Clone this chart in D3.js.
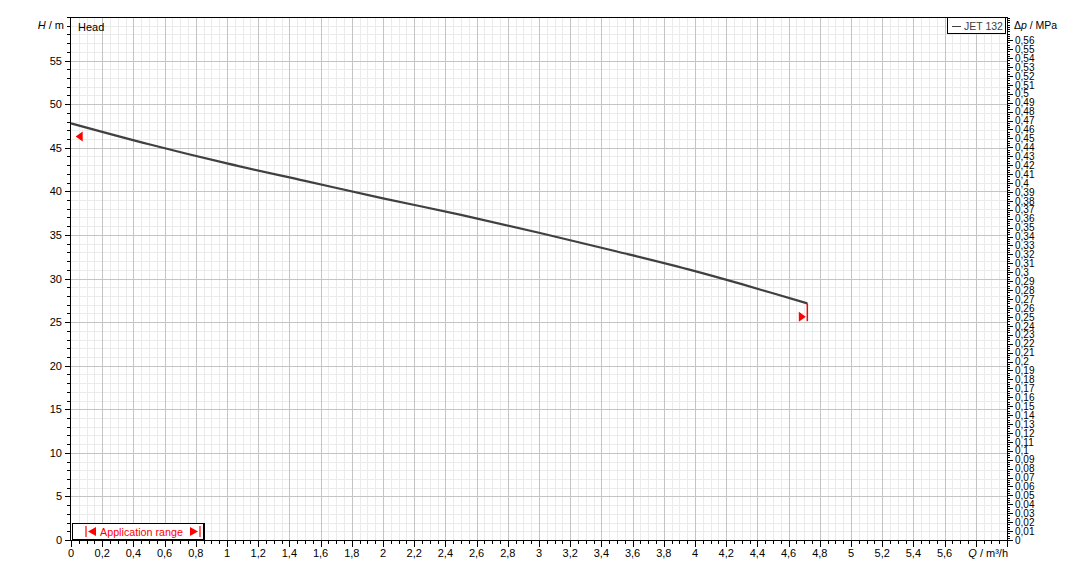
<!DOCTYPE html>
<html><head><meta charset="utf-8">
<script src="https://cdn.jsdelivr.net/npm/d3@7"></script>
<style>
body{margin:0;background:#fff;}
text{font-family:"Liberation Sans",Arial,sans-serif;fill:#000;}
</style></head>
<body><svg id="c" width="1081" height="577"></svg>
<script>
// Data
const flowQ = [0, 0.5, 1, 1.5, 2, 2.5, 3, 3.5, 4, 4.3, 4.5, 4.72];
const headH = [47.8, 45.4, 43.2, 41.2, 39.2, 37.3, 35.25, 33.1, 30.85, 29.35, 28.3, 27.15];
const seriesName = "JET 132";
const appRangeMin = {q: 0.03, h: 46.3};
const appRangeMax = {q: 4.72, hTop: 27.15, hBot: 25.1, markH: 25.6};
const xTickLabels = d3.range(0, 29).map(i => i * 0.2);
const yTickLabels = d3.range(0, 60, 5);
const pTickLabels = d3.range(0, 57).map(i => i / 100);

const svg = d3.select("#c");
const L = 71, R = 1007, T = 17, B = 540;
const x = d3.scaleLinear([0, 6], [L, R]);
const y = d3.scaleLinear([0, 60], [B, T]);
const yp = d3.scaleLinear([0, 0.586], [B, T]);
const fmt = v => String(+v.toFixed(2)).replace(".", ",");

// minor grid
const g = svg.append("g");
d3.range(0, 121).forEach(i => {
  if (i % 4 === 0) return;
  g.append("line").attr("x1", Math.round(x(i * 0.05)) + 0.5).attr("x2", Math.round(x(i * 0.05)) + 0.5).attr("y1", T).attr("y2", B)
    .attr("stroke", "#ebebeb");
});
d3.range(0, 61).forEach(i => {
  if (i % 5 === 0) return;
  g.append("line").attr("x1", L).attr("x2", R).attr("y1", Math.round(y(i)) + 0.5).attr("y2", Math.round(y(i)) + 0.5)
    .attr("stroke", "#ebebeb");
});
// major grid
d3.range(1, 30).forEach(i => {
  g.append("line").attr("x1", Math.round(x(i * 0.2)) + 0.5).attr("x2", Math.round(x(i * 0.2)) + 0.5).attr("y1", T).attr("y2", B)
    .attr("stroke", "#c4c4c4");
});
d3.range(1, 12).forEach(i => {
  g.append("line").attr("x1", L).attr("x2", R).attr("y1", Math.round(y(i * 5)) + 0.5).attr("y2", Math.round(y(i * 5)) + 0.5)
    .attr("stroke", "#c4c4c4");
});

// frame top
svg.append("line").attr("x1", L).attr("x2", R).attr("y1", T + 0.5).attr("y2", T + 0.5).attr("stroke", "#000");

// Left axis
const ax = svg.append("g").attr("transform", `translate(${L},0)`);
ax.append("g").call(d3.axisLeft(y).tickValues(d3.range(0, 61)).tickSize(4).tickFormat("")).call(s => s.select(".domain").remove());
ax.append("g").call(d3.axisLeft(y).tickValues(yTickLabels).tickSize(6).tickFormat(d => d).tickPadding(3))
  .call(s => s.select(".domain").remove())
  .call(s => s.selectAll("text").attr("font-size", 11).attr("fill", "#000").attr("font-family", "Liberation Sans"));
ax.append("line").attr("x1", -0.5).attr("x2", -0.5).attr("y1", T).attr("y2", B).attr("stroke", "#000");
ax.append("text").attr("x", -7).attr("y", 29).attr("text-anchor", "end").attr("font-size", 11).attr("fill", "#000")
  .html('<tspan font-style="italic">H</tspan> / m');

// Bottom axis
const bx = svg.append("g").attr("transform", `translate(0,${B})`);
bx.append("g").call(d3.axisBottom(x).tickValues(d3.range(0, 121).map(i => i * 0.05)).tickSize(4).tickFormat(""))
  .call(s => s.select(".domain").remove());
bx.append("g").call(d3.axisBottom(x).tickValues(d3.range(0, 31).map(i => i * 0.2)).tickSize(7).tickFormat(""))
  .call(s => s.select(".domain").remove());
bx.selectAll("text.lbl").data(xTickLabels).enter().append("text").attr("class", "lbl")
  .attr("x", d => x(d)).attr("y", 17).attr("text-anchor", "middle").attr("font-size", 11).attr("fill", "#000").text(fmt);
bx.append("text").attr("x", R + 1).attr("y", 17).attr("text-anchor", "end").attr("font-size", 11).attr("fill", "#000")
  .html('<tspan font-style="italic">Q</tspan> / m³/h');
bx.append("line").attr("x1", L).attr("x2", R).attr("y1", 0.5).attr("y2", 0.5).attr("stroke", "#000");

// Right axis
const rx = svg.append("g").attr("transform", `translate(${R},0)`);
rx.append("g").call(d3.axisRight(yp).tickValues(d3.range(0, 235).map(i => i * 0.0025)).tickSize(3).tickFormat(""))
  .call(s => s.select(".domain").remove());
rx.append("g").call(d3.axisRight(yp).tickValues(pTickLabels).tickSize(6).tickFormat(fmt).tickPadding(2))
  .call(s => s.select(".domain").remove())
  .call(s => s.selectAll("text").attr("font-size", 10).attr("fill", "#000").attr("font-family", "Liberation Sans"));
rx.append("line").attr("x1", 0.5).attr("x2", 0.5).attr("y1", T).attr("y2", B).attr("stroke", "#000");
rx.append("text").attr("x", 7).attr("y", 29).attr("font-size", 10.5).attr("fill", "#000")
  .html('Δ<tspan font-style="italic">p</tspan> / MPa');
svg.selectAll(".tick line").attr("stroke", "#000").attr("shape-rendering", "crispEdges");

// Head label
svg.append("text").attr("x", 78).attr("y", 31).attr("font-size", 11).attr("fill", "#000").text("Head");

// Curve
const pts = flowQ.map((q, i) => [q, headH[i]]);
svg.append("path").datum(pts)
  .attr("d", d3.line().x(d => x(d[0])).y(d => y(d[1])).curve(d3.curveMonotoneX))
  .attr("fill", "none").attr("stroke", "#404040").attr("stroke-width", 2.2);

// Application range markers
const lx = x(appRangeMin.q), ly = y(appRangeMin.h);
svg.append("path").attr("d", `M${lx},${ly} L${lx + 7},${ly - 5} L${lx + 7},${ly + 5} Z`).attr("fill", "#ff0000");
const rxp = x(appRangeMax.q);
svg.append("line").attr("x1", rxp).attr("x2", rxp).attr("y1", y(appRangeMax.hTop)).attr("y2", y(appRangeMax.hBot))
  .attr("stroke", "#ff0000").attr("stroke-width", 1.5);
const my = y(appRangeMax.markH);
svg.append("path").attr("d", `M${rxp - 1.5},${my} L${rxp - 8.5},${my - 5} L${rxp - 8.5},${my + 5} Z`).attr("fill", "#ff0000");

// Legend
svg.append("rect").attr("x", 947.5).attr("y", 17.5).attr("width", 58).attr("height", 16)
  .attr("fill", "#fff").attr("stroke", "#000");
svg.append("line").attr("x1", 952).attr("x2", 961).attr("y1", 26.5).attr("y2", 26.5).attr("stroke", "#404040");
svg.append("text").attr("x", 964).attr("y", 30).attr("font-size", 10.5).style("fill", "#404040").text(seriesName);

// Application range box
svg.append("rect").attr("x", 72.5).attr("y", 523.5).attr("width", 131).attr("height", 16)
  .attr("fill", "#fff").attr("stroke", "#000");
svg.append("line").attr("x1", 204).attr("x2", 204).attr("y1", 523).attr("y2", 540).attr("stroke", "#000").attr("stroke-width", 2);
const red = "#ff0000";
// left "|◄"
svg.append("line").attr("x1", 86).attr("x2", 86).attr("y1", 526).attr("y2", 537).attr("stroke", red).attr("stroke-width", 1.2);
svg.append("path").attr("d", "M88,531.5 L96,527 L96,536 Z").attr("fill", red);
svg.append("text").attr("x", 100).attr("y", 536).attr("font-size", 11.5).attr("textLength", 83)
  .attr("lengthAdjust", "spacingAndGlyphs").style("fill", red).text("Application range");
// right "►|"
svg.append("path").attr("d", "M198,531.5 L190,527 L190,536 Z").attr("fill", red);
svg.append("line").attr("x1", 200).attr("x2", 200).attr("y1", 526).attr("y2", 537).attr("stroke", red).attr("stroke-width", 1.2);
</script></body></html>
